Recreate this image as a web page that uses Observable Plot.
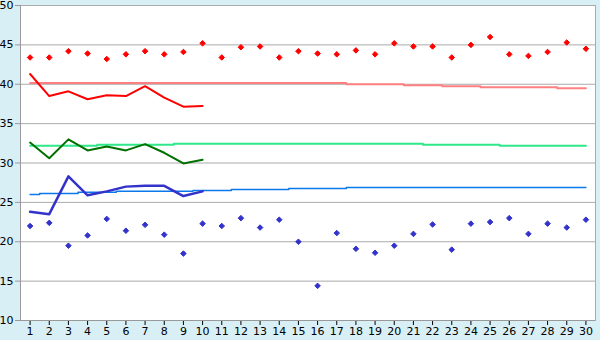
<!DOCTYPE html>
<html><head><meta charset="utf-8">
<script src="https://cdn.jsdelivr.net/npm/d3@7"></script>
<script src="https://cdn.jsdelivr.net/npm/@observablehq/plot@0.6"></script>
<style>html,body{margin:0;padding:0;background:#d9eff6;}svg{display:block;}</style>
</head><body><div id="chart"></div>
<script>
const days = [1,2,3,4,5,6,7,8,9,10,11,12,13,14,15,16,17,18,19,20,21,22,23,24,25,26,27,28,29,30];
const lineDays = [1,2,3,4,5,6,7,8,9,10];
const yTicks = [10,15,20,25,30,35,40,45,50];

const redPoints = [43.4,43.4,44.2,43.9,43.2,43.8,44.2,43.8,44.1,45.2,43.4,44.7,44.8,43.4,44.2,43.9,43.8,44.3,43.8,45.2,44.8,44.8,43.4,45.0,46.0,43.8,43.6,44.1,45.3,44.5];
const bluePoints = [22.0,22.4,19.5,20.8,22.9,21.4,22.15,20.9,18.5,22.3,22.0,23.0,21.8,22.8,20.0,14.4,21.1,19.1,18.6,19.5,21.0,22.2,19.0,22.3,22.5,23.0,21.0,22.3,21.8,22.8];

const redLine = [41.3,38.5,39.1,38.1,38.6,38.5,39.75,38.3,37.15,37.25];
const greenLine = [32.6,30.6,33.0,31.6,32.1,31.6,32.4,31.3,29.95,30.4];
const blueLine = [23.8,23.5,28.3,25.9,26.4,27.0,27.1,27.1,25.8,26.4];

const redRef = [40.15,40.15,40.15,40.15,40.15,40.15,40.15,40.15,40.15,40.15,40.15,40.15,40.15,40.15,40.15,40.15,40.15,40.0,40.0,40.0,39.87,39.87,39.75,39.75,39.62,39.62,39.62,39.62,39.5,39.5];
const greenRef = [32.2,32.2,32.2,32.2,32.32,32.32,32.32,32.32,32.45,32.45,32.45,32.45,32.45,32.45,32.45,32.45,32.45,32.45,32.45,32.45,32.45,32.32,32.32,32.32,32.32,32.2,32.2,32.2,32.2,32.2];
const blueRef = [26.0,26.14,26.14,26.27,26.27,26.4,26.4,26.4,26.4,26.52,26.52,26.65,26.65,26.65,26.77,26.77,26.77,26.9,26.9,26.9,26.9,26.9,26.9,26.9,26.9,26.9,26.9,26.9,26.9,26.9];

const chart = Plot.plot({
  width: 600, height: 340,
  marginLeft: 20, marginRight: 5, marginTop: 5, marginBottom: 20,
  style: {fontFamily: "DejaVu Sans", fontSize: "11px", color: "#000", background: "#d9eff6"},
  x: {domain: [0.5, 30.5]},
  y: {domain: [10, 50]},
  marks: [
    Plot.frame({fill: "white", stroke: "none"}),
    Plot.gridY([15,20,25,30,35,40,45], {stroke: "#aaa", strokeOpacity: 1}),
    Plot.frame({stroke: "#aaa"}),
    Plot.line(days, {x: days, y: redRef, curve: "step", stroke: "#ff8080", strokeWidth: 2}),
    Plot.line(days, {x: days, y: greenRef, curve: "step", stroke: "#2fe88a", strokeWidth: 2}),
    Plot.line(days, {x: days, y: blueRef, curve: "step", stroke: "#0a78ea", strokeWidth: 1.5}),
    Plot.line(lineDays, {x: lineDays, y: redLine, stroke: "#ff0000", strokeWidth: 2}),
    Plot.line(lineDays, {x: lineDays, y: greenLine, stroke: "#007000", strokeWidth: 2}),
    Plot.line(lineDays, {x: lineDays, y: blueLine, stroke: "#3333cc", strokeWidth: 2.5}),
    Plot.dot(days, {x: days, y: redPoints, symbol: "diamond2", r: 2.5, fill: "#ff0000", stroke: "#ff0000", strokeWidth: 1}),
    Plot.dot(days, {x: days, y: bluePoints, symbol: "diamond2", r: 2.5, fill: "#3333cc", stroke: "#3333cc", strokeWidth: 1}),
    Plot.axisY({ticks: yTicks, tickSize: 5, tickPadding: 2, stroke: "#999", label: null}),
    Plot.axisX({ticks: days, tickSize: 5, tickPadding: 2, stroke: "#000", label: null, tickFormat: d => String(d)}),
    Plot.ruleX([0.5], {stroke: "#999"}),
    Plot.ruleY([10], {stroke: "#999"})
  ]
});
document.getElementById("chart").append(chart);
</script>
</body></html>
